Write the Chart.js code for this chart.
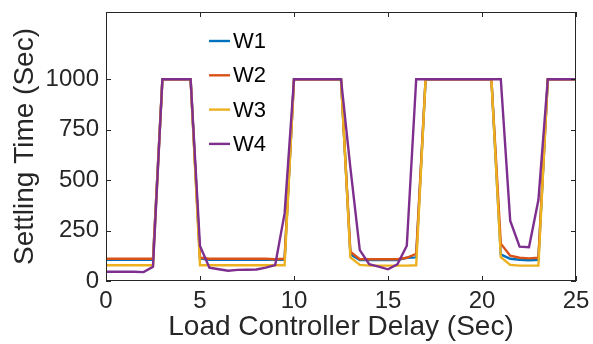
<!DOCTYPE html>
<html>
<head>
	<meta charset="UTF-8">
	<title>Settling Time vs Load Controller Delay</title>
	<script src="https://cdn.jsdelivr.net/npm/chart.js"></script>
	<style>
		body { margin: 0; background: #ffffff; }
		#wrap { width: 593px; height: 344px; position: relative; }
	</style>
</head>
<body>
	<div id="wrap"><canvas id="myChart" width="593" height="344"></canvas></div>
	<script>
		// delay values (sec)
		const delays = [0, 0.5, 1, 1.5, 2, 2.5, 3, 3.5, 4, 4.5, 5, 5.5, 6, 6.5, 7, 7.5, 8, 8.5, 9, 9.5,
			10, 10.5, 11, 11.5, 12, 12.5, 13, 13.5, 14, 14.5, 15, 15.5, 16, 16.5, 17, 17.5, 18, 18.5, 19, 19.5,
			20, 20.5, 21, 21.5, 22, 22.5, 23, 23.5, 24, 24.5, 25];

		const w1 = [105, 105, 105, 105, 105, 105, 1000, 1000, 1000, 1000, 112, 105, 105, 105, 105, 105, 105, 105, 105, 105,
			1000, 1000, 1000, 1000, 1000, 1000, 132, 104, 104, 104, 104, 104, 115, 117, 1000, 1000, 1000, 1000, 1000, 1000,
			1000, 1000, 132, 110, 105, 103, 105, 1000, 1000, 1000, 1000];
		const w2 = [110, 110, 110, 110, 110, 110, 1000, 1000, 1000, 1000, 115, 110, 110, 110, 110, 110, 110, 110, 108, 110,
			1000, 1000, 1000, 1000, 1000, 1000, 145, 108, 108, 108, 108, 108, 115, 135, 1000, 1000, 1000, 1000, 1000, 1000,
			1000, 1000, 185, 125, 115, 112, 115, 1000, 1000, 1000, 1000];
		const w3 = [78, 78, 78, 78, 78, 78, 1000, 1000, 1000, 1000, 78, 78, 78, 78, 78, 78, 78, 78, 78, 78,
			1000, 1000, 1000, 1000, 1000, 1000, 117, 80, 76, 76, 76, 76, 76, 78, 1000, 1000, 1000, 1000, 1000, 1000,
			1000, 1000, 118, 80, 76, 76, 76, 1000, 1000, 1000, 1000];
		const w4 = [46, 46, 46, 46, 44, 71, 1000, 1000, 1000, 1000, 173, 66, 58, 51, 55, 56, 57, 66, 79, 335,
			1000, 1000, 1000, 1000, 1000, 1000, 560, 153, 83, 71, 58, 83, 175, 1000, 1000, 1000, 1000, 1000, 1000, 1000,
			1000, 1000, 1000, 299, 170, 167, 401, 1000, 1000, 1000, 1000];

		const seriesNames = ['W1', 'W2', 'W3', 'W4'];
		const seriesColors = ['#0072BD', '#D95319', '#EDB120', '#7E2F8E'];
		const xTicks = [0, 5, 10, 15, 20, 25];
		const yTicks = [0, 250, 500, 750, 1000];

		const axisColor = '#262626';
		const fontFamily = '"Liberation Sans", Arial, sans-serif';

		function toPoints(vals) {
			return delays.map((d, i) => ({x: d, y: vals[i]}));
		}

		// box frame + inward ticks like matlab
		const framePlugin = {
			id: 'frameTicks',
			afterDraw: (chart) => {
				const {ctx, chartArea} = chart;
				const xs = chart.scales.x, ys = chart.scales.y;
				const len = 5;
				ctx.save();
				ctx.strokeStyle = axisColor;
				ctx.lineWidth = 1;
				ctx.strokeRect(chartArea.left + 0.5, chartArea.top + 0.5,
					chartArea.right - chartArea.left - 1, chartArea.bottom - chartArea.top - 1);
				ctx.beginPath();
				xs.ticks.forEach(t => {
					const px = Math.round(xs.getPixelForValue(t.value)) + 0.5;
					ctx.moveTo(px, chartArea.bottom);
					ctx.lineTo(px, chartArea.bottom - len);
					ctx.moveTo(px, chartArea.top);
					ctx.lineTo(px, chartArea.top + len);
				});
				ys.ticks.forEach(t => {
					const py = Math.round(ys.getPixelForValue(t.value)) + 0.5;
					ctx.moveTo(chartArea.left, py);
					ctx.lineTo(chartArea.left + len, py);
					ctx.moveTo(chartArea.right, py);
					ctx.lineTo(chartArea.right - len, py);
				});
				ctx.stroke();
				ctx.restore();
			}
		};

		// legend drawn inside the axes, no box
		const legendPlugin = {
			id: 'innerLegend',
			afterDraw: (chart) => {
				const {ctx} = chart;
				const x0 = 209, y0 = 41, step = 34.3;
				ctx.save();
				ctx.font = '22px ' + fontFamily;
				ctx.textBaseline = 'middle';
				chart.data.datasets.forEach((ds, i) => {
					const y = y0 + i * step;
					ctx.strokeStyle = ds.borderColor;
					ctx.lineWidth = 2.4;
					ctx.beginPath();
					ctx.moveTo(x0, y);
					ctx.lineTo(x0 + 21, y);
					ctx.stroke();
					ctx.fillStyle = '#000000';
					ctx.fillText(ds.label, x0 + 24, y + 1);
				});
				ctx.restore();
			}
		};

		const datasets = [w1, w2, w3, w4].map((vals, i) => ({
			label: seriesNames[i],
			data: toPoints(vals),
			borderColor: seriesColors[i],
			backgroundColor: seriesColors[i],
			borderWidth: 2.4,
			pointRadius: 0,
			tension: 0,
			order: 4 - i // W4 drawn on top
		}));

		const ctx = document.getElementById('myChart').getContext('2d');
		const chart = new Chart(ctx, {
			type: 'line',
			data: { datasets: datasets },
			options: {
				responsive: false,
				animation: false,
				layout: { padding: { top: 12, right: 17, left: 0, bottom: 0 } },
				scales: {
					x: {
						type: 'linear',
						min: 0,
						max: 25,
						afterBuildTicks: (s) => { s.ticks = xTicks.map(v => ({value: v})); },
						afterFit: (s) => {
							s.height = 63;
							s.paddingLeft = 0;
							s.paddingRight = 0;
						},
						grid: { display: false, drawTicks: false },
						border: { display: false },
						ticks: {
							color: axisColor,
							padding: 6,
							font: { family: fontFamily, size: 24 },
							maxRotation: 0,
							callback: (v) => String(v)
						},
						title: {
							display: true,
							text: 'Load Controller Delay (Sec)',
							color: axisColor,
							padding: { top: 0, bottom: 0 },
							font: { family: fontFamily, size: 28 }
						}
					},
					y: {
						min: 0,
						max: 1333,
						afterBuildTicks: (s) => { s.ticks = yTicks.map(v => ({value: v})); },
						afterFit: (s) => {
							s.width = 106;
							s.paddingTop = 0;
							s.paddingBottom = 0;
						},
						grid: { display: false, drawTicks: false },
						border: { display: false },
						ticks: {
							color: axisColor,
							padding: 7,
							font: { family: fontFamily, size: 24 },
							callback: (v) => String(v)
						},
						title: {
							display: true,
							text: 'Settling Time (Sec)',
							color: axisColor,
							padding: { top: 8, bottom: 0 },
							font: { family: fontFamily, size: 28 }
						}
					}
				},
				plugins: {
					legend: { display: false },
					tooltip: { enabled: false }
				}
			},
			plugins: [framePlugin, legendPlugin]
		});
	</script>
</body>
</html>
